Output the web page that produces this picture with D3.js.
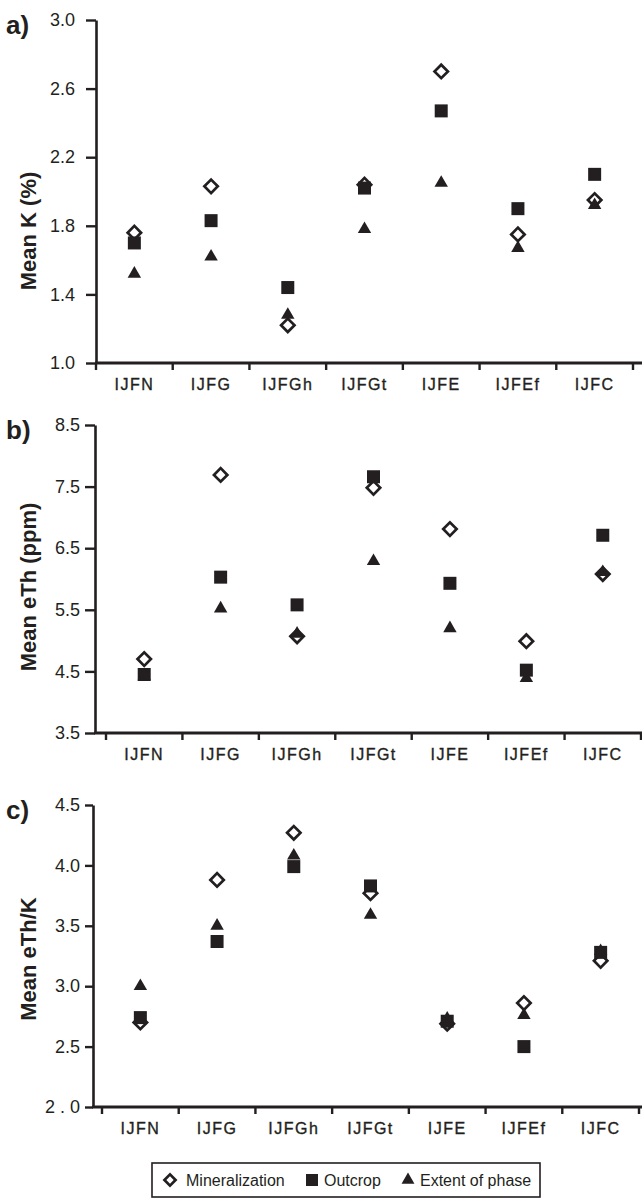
<!DOCTYPE html>
<html>
<head>
  <meta charset="utf-8">
  <title>Mean K, eTh and eTh/K by phase</title>
  <style>
  body { margin: 0; background: #fff; }
  svg { display: block; font-family: "Liberation Sans", Arial, sans-serif; }
  .axis path, .axis line { stroke: #231f20; }
  .axis text { fill: #231f20; }
  </style>
</head>
<body>
  <svg width="642" height="1199"></svg>
  <script src="https://d3js.org/d3.v7.min.js"></script>
  <script>
  // data
  var categories = ["IJFN", "IJFG", "IJFGh", "IJFGt", "IJFE", "IJFEf", "IJFC"];
  var seriesNames = ["Mineralization", "Outcrop", "Extent of phase"];

  // a) mean K (%)
  var kMineralization = [1.76, 2.03, 1.22, 2.04, 2.70, 1.75, 1.95];
  var kOutcrop        = [1.70, 1.83, 1.44, 2.02, 2.47, 1.90, 2.10];
  var kExtent         = [1.52, 1.62, 1.28, 1.78, 2.05, 1.67, 1.92];
  var kTicks = [1.0, 1.4, 1.8, 2.2, 2.6, 3.0];

  // b) mean eTh (ppm)
  var thMineralization = [4.70, 7.69, 5.07, 7.48, 6.81, 4.99, 6.08];
  var thOutcrop        = [4.45, 6.03, 5.58, 7.66, 5.93, 4.52, 6.71];
  var thExtent         = [4.42, 5.52, 5.11, 6.29, 5.20, 4.39, 6.11];
  var thTicks = [3.5, 4.5, 5.5, 6.5, 7.5, 8.5];

  // c) mean eTh/K
  var ratioMineralization = [2.70, 3.88, 4.27, 3.77, 2.69, 2.86, 3.21];
  var ratioOutcrop        = [2.74, 3.37, 3.99, 3.83, 2.71, 2.50, 3.28];
  var ratioExtent         = [3.00, 3.50, 4.08, 3.59, 2.73, 2.76, 3.29];
  var ratioTicks = [2.0, 2.5, 3.0, 3.5, 4.0, 4.5];

  var ink = "#231f20";
  var svg = d3.select("svg");

  var panels = [
    { tag: "a)", title: "Mean K (%)", titleY: 231, domain: [1, 3], ticks: kTicks,
      fmt: d3.format(".1f"), top: 20, bottom: 363, axisX: 96, band: [96, 633],
      tickLen: 10, tickPad: 11, series: [kMineralization, kOutcrop, kExtent] },
    { tag: "b)", title: "Mean eTh (ppm)", titleY: 587, domain: [3.5, 8.5], ticks: thTicks,
      fmt: d3.format(".1f"), top: 425, bottom: 733, axisX: 95, band: [106, 641],
      tickLen: 10, tickPad: 5, series: [thMineralization, thOutcrop, thExtent] },
    { tag: "c)", title: "Mean eTh/K", titleY: 959, domain: [2, 4.5], ticks: ratioTicks,
      fmt: function(d) { return d === 2 ? "2 . 0" : d3.format(".1f")(d); },
      top: 805, bottom: 1107, axisX: 93, band: [102, 639],
      tickLen: 8, tickPad: 5, series: [ratioMineralization, ratioOutcrop, ratioExtent] }
  ];

  // marker painters: 0 open diamond, 1 filled square, 2 filled triangle
  function drawMarker(sel, kind, big) {
    if (kind === 0) {
      sel.append("path")
        .attr("d", d3.symbol(d3.symbolSquare, big ? 90 : 62)())
        .attr("transform", "rotate(45)")
        .attr("fill", "#fff").attr("stroke", ink).attr("stroke-width", 2.7);
    } else if (kind === 1) {
      sel.append("path")
        .attr("d", d3.symbol(d3.symbolSquare, big ? 169 : 144)())
        .attr("fill", ink);
    } else {
      sel.append("path")
        .attr("d", d3.symbol(d3.symbolTriangle, big ? 78 : 72)())
        .attr("fill", ink);
    }
  }

  panels.forEach(function(p) {
    var y = d3.scaleLinear().domain(p.domain).range([p.bottom, p.top]);
    var x = d3.scaleBand().domain(categories).range(p.band);

    // y axis
    var ya = svg.append("g").attr("class", "axis")
      .attr("transform", "translate(" + p.axisX + ",0)")
      .call(d3.axisLeft(y).tickValues(p.ticks).tickFormat(p.fmt)
        .tickSize(p.tickLen).tickPadding(p.tickPad).tickSizeOuter(0));
    ya.attr("font-family", null).attr("font-size", 18);
    ya.select(".domain").attr("stroke-width", 2.6);
    ya.selectAll(".tick line").attr("stroke-width", 2.4);

    // x axis
    var xa = svg.append("g").attr("class", "axis")
      .attr("transform", "translate(0," + p.bottom + ")");
    xa.append("line")
      .attr("x1", p.axisX - 1).attr("x2", 642)
      .attr("stroke", ink).attr("stroke-width", 2.8);
    var edges = categories.map(function(c) { return x(c); }).concat([p.band[1]]);
    xa.selectAll("line.tk").data(edges).enter().append("line")
      .attr("class", "tk")
      .attr("x1", function(d) { return d; }).attr("x2", function(d) { return d; })
      .attr("y1", 0).attr("y2", 7)
      .attr("stroke", ink).attr("stroke-width", 2.4);
    xa.selectAll("text").data(categories).enter().append("text")
      .attr("x", function(d) { return x(d) + x.bandwidth() / 2; })
      .attr("y", 27)
      .attr("text-anchor", "middle")
      .attr("font-size", 16)
      .attr("letter-spacing", 1.5)
      .attr("fill", ink)
      .attr("stroke", ink).attr("stroke-width", 0.35)
      .text(function(d) { return d; });

    // panel tag and title
    svg.append("text")
      .attr("x", 6).attr("y", p.top + 14)
      .attr("font-size", 26).attr("font-weight", "bold").attr("fill", ink)
      .text(p.tag);
    svg.append("text")
      .attr("transform", "translate(36," + p.titleY + ") rotate(-90)")
      .attr("text-anchor", "middle")
      .attr("font-size", 22).attr("font-weight", "bold").attr("fill", ink)
      .text(p.title);

    // points: diamonds first, then squares, then triangles
    p.series.forEach(function(vals, k) {
      var g = svg.append("g");
      g.selectAll("g").data(vals).enter().append("g")
        .attr("transform", function(d, i) {
          return "translate(" + (x(categories[i]) + x.bandwidth() / 2) + "," + y(d) + ")";
        })
        .each(function() { drawMarker(d3.select(this), k, true); });
    });
  });

  // legend
  var lg = svg.append("g").attr("transform", "translate(152,1163)");
  lg.append("rect").attr("width", 388).attr("height", 34)
    .attr("fill", "#fff").attr("stroke", ink).attr("stroke-width", 1.6);
  var items = [{ mx: 18, tx: 34 }, { mx: 160, tx: 172 }, { mx: 256, tx: 268 }];
  seriesNames.forEach(function(name, k) {
    var m = lg.append("g").attr("transform", "translate(" + items[k].mx + ",17)");
    drawMarker(m, k, false);
    lg.append("text").attr("x", items[k].tx).attr("y", 22.5)
      .attr("font-size", 16).attr("fill", ink).text(name);
  });
  </script>
</body>
</html>
